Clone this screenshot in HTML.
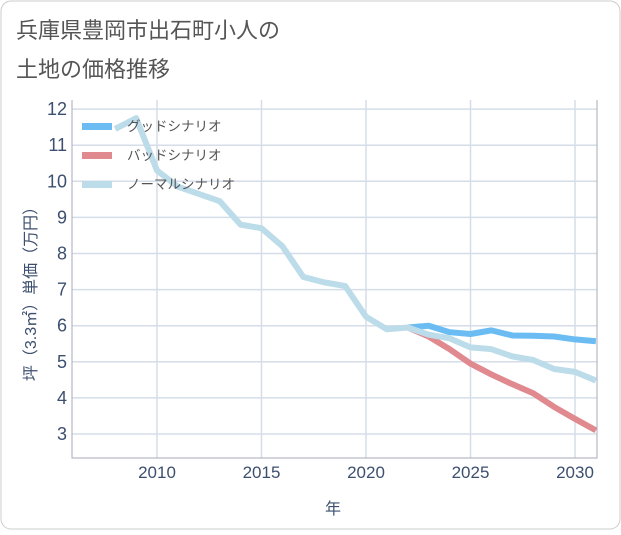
<!DOCTYPE html>
<html><head><meta charset="utf-8"><style>
body{margin:0;background:#fff;}
svg text{font-family:"Liberation Sans","Noto Sans CJK JP",sans-serif;}
</style></head><body>
<svg width="621" height="530">
<rect x="1" y="1" width="619" height="528" rx="10" fill="#fff" stroke="#ccc"/>
<text x="16" y="38" font-size="22" fill="#555">兵庫県豊岡市出石町小人の</text>
<text x="16" y="77" font-size="22" fill="#555">土地の価格推移</text>
<g id="grid"></g><g id="series"></g><g id="legend"></g>
<text x="333" y="514" font-size="16" fill="#3d4f6f" text-anchor="middle">年</text>
<text transform="translate(36,290) rotate(-90)" font-size="16" fill="#3d4f6f" text-anchor="middle">坪（3.3㎡）単価（万円）</text>
</svg>
<script>
const xTicks=[2010,2015,2020,2025,2030];
const yTicks=[3,4,5,6,7,8,9,10,11,12];
const normalYears=[2008,2009,2010,2011,2012,2013,2014,2015,2016,2017,2018,2019,2020,2021,2022,2023,2024,2025,2026,2027,2028,2029,2030,2031];
const normalVals=[11.45,11.75,10.3,9.85,9.65,9.45,8.8,8.7,8.2,7.35,7.2,7.1,6.25,5.9,5.95,5.75,5.65,5.4,5.35,5.15,5.05,4.8,4.72,4.48];
const futureYears=[2022,2023,2024,2025,2026,2027,2028,2029,2030,2031];
const goodVals=[5.95,6.0,5.82,5.77,5.87,5.73,5.72,5.7,5.62,5.57];
const badVals=[5.95,5.7,5.35,4.95,4.65,4.38,4.13,3.75,3.42,3.1];
const L=72,R=597,T=100,B=458;
const X=y=>157+(y-2010)*20.9;
const Y=v=>434-(v-3)*36.1;
const ns="http://www.w3.org/2000/svg";
function mk(t,a,p){const e=document.createElementNS(ns,t);for(const k in a)e.setAttribute(k,a[k]);p.appendChild(e);return e;}
const g=document.getElementById('grid');
yTicks.forEach(v=>{
 const l=mk('line',{x1:L,x2:R,y1:Y(v),y2:Y(v),stroke:'#d5dee8','stroke-width':1.5},g);
 
 const t=mk('text',{x:67,y:Y(v)+6,'font-size':18,fill:'#3d4f6f','text-anchor':'end'},g);t.textContent=v;
 
});
xTicks.forEach(v=>{
 const l=mk('line',{x1:X(v),x2:X(v),y1:T,y2:B,stroke:'#d5dee8','stroke-width':1.5},g);
 
 const t=mk('text',{x:X(v),y:478,'font-size':17,fill:'#3d4f6f','text-anchor':'middle'},g);t.textContent=v;
 
});
const ax=mk('path',{d:`M${L},${T}V${B}H${R}V${T}`,fill:'none',stroke:'#aab','stroke-width':1},g);

const s=document.getElementById('series');
function line(xs,vs,c,n){const p=mk('polyline',{points:xs.map((x,i)=>X(x)+','+Y(vs[i])).join(' '),fill:'none',stroke:c,'stroke-width':6,'stroke-linejoin':'round'},s);
 }
line(futureYears,goodVals,'#6bbcf2','good-scenario-line');
line(futureYears,badVals,'#e08a90','bad-scenario-line');
line(normalYears,normalVals,'#bcdcea','normal-scenario-line');
const lg=document.getElementById('legend');
[['グッドシナリオ','#6bbcf2'],['バッドシナリオ','#e08a90'],['ノーマルシナリオ','#bcdcea']].forEach((d,i)=>{
 const y=126+i*29;
 const r=mk('rect',{x:82,y:y-3,width:30,height:7,fill:d[1]},lg);
 
 const t=mk('text',{x:127,y:y+5,'font-size':13.5,fill:'#555'},lg);t.textContent=d[0];
 
});
</script>
</body></html>
